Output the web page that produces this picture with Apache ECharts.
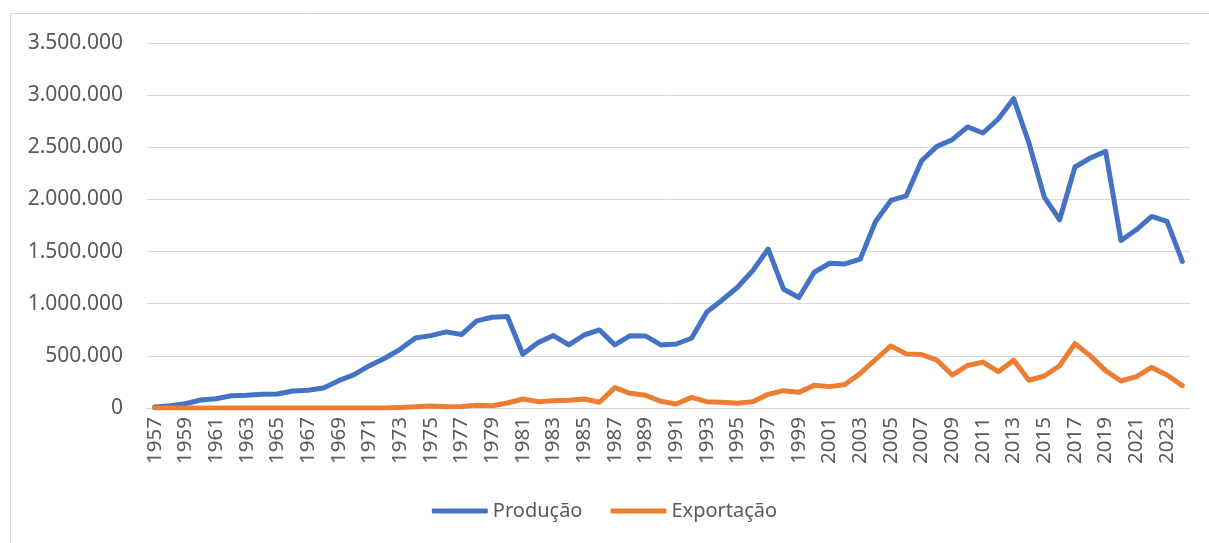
<!DOCTYPE html>
<html>
<head>
<meta charset="utf-8">
<script src="https://cdn.jsdelivr.net/npm/echarts@6/dist/echarts.min.js"></script>
<style>
html,body{margin:0;padding:0;background:#fff;}
#chart{width:1209px;height:543px;}
</style>
</head>
<body>
<div id="chart"></div>
<script>
const years = [];
for (let y = 1957; y <= 2024; y++) years.push(String(y));

const producao = [
  10000, 22000, 41000, 77000, 89000, 118000, 122000, 131000, 134000, 163000,
  170000, 192000, 262000, 320000, 406000, 477000, 563000, 672000, 694000, 730000,
  704000, 835000, 870000, 877000, 515000, 627000, 695000, 605000, 700000, 748000,
  605000, 694000, 691000, 605000, 614000, 669000, 921000, 1036000, 1158000, 1318000,
  1524000, 1139000, 1059000, 1302000, 1388000, 1382000, 1428000, 1788000, 1990000, 2035000,
  2371000, 2509000, 2573000, 2695000, 2637000, 2771000, 2966000, 2541000, 2023000, 1805000,
  2311000, 2397000, 2461000, 1606000, 1709000, 1837000, 1789000, 1405000
];

const exportacao = [
  0, 0, 0, 0, 0, 0, 0, 0, 0, 0,
  0, 0, 0, 0, 0, 0, 5000, 12000, 19000, 12000,
  15000, 26000, 22000, 48000, 86000, 61000, 70000, 74000, 86000, 55000,
  195000, 141000, 122000, 64000, 38000, 102000, 61000, 55000, 45000, 61000,
  131000, 166000, 150000, 218000, 205000, 225000, 332000, 465000, 595000, 519000,
  513000, 459000, 316000, 408000, 440000, 348000, 459000, 266000, 307000, 405000,
  617000, 500000, 358000, 259000, 300000, 389000, 316000, 215000
];

const seriesNames = ['Produção', 'Exportação'];
const yTicks = { min: 0, max: 3500000, interval: 500000 };

function fmt(v) {
  return String(v).replace(/\B(?=(\d{3})+(?!\d))/g, '.');
}

const chart = echarts.init(document.getElementById('chart'), null, { renderer: 'canvas' });
const font = '"Noto Sans", "Open Sans", sans-serif';
chart.setOption({
  animation: false,
  backgroundColor: '#ffffff',
  graphic: [{
    type: 'rect',
    shape: { x: 10.5, y: 13.5, width: 1230, height: 560 },
    style: { fill: 'none', stroke: '#d9d9d9', lineWidth: 1 },
    silent: true
  }],
  grid: { left: 147, right: 19, top: 43, bottom: 135, containLabel: false },
  legend: {
    data: seriesNames,
    bottom: 17,
    left: 'center',
    icon: 'roundRect',
    itemWidth: 56,
    itemHeight: 5,
    itemGap: 28,
    textStyle: { fontFamily: font, fontSize: 20, color: '#595959' }
  },
  xAxis: {
    type: 'category',
    data: years,
    boundaryGap: true,
    axisLine: { show: true, lineStyle: { color: '#d9d9d9', width: 1 } },
    axisTick: { show: false },
    axisLabel: {
      interval: 1,
      rotate: 90,
      margin: 9,
      fontFamily: font,
      fontSize: 20.5,
      color: '#595959'
    }
  },
  yAxis: {
    type: 'value',
    min: yTicks.min,
    max: yTicks.max,
    interval: yTicks.interval,
    axisLine: { show: false },
    axisTick: { show: false },
    splitLine: { lineStyle: { color: '#d9d9d9', width: 1 } },
    axisLabel: {
      formatter: fmt,
      margin: 24,
      fontFamily: font,
      fontSize: 21,
      color: '#595959'
    }
  },
  series: [
    {
      name: seriesNames[0],
      type: 'line',
      data: producao,
      symbol: 'none',
      color: '#4472C4',
      lineStyle: { width: 5, color: '#4472C4', cap: 'round', join: 'round' }
    },
    {
      name: seriesNames[1],
      type: 'line',
      data: exportacao,
      symbol: 'none',
      color: '#ED7D31',
      lineStyle: { width: 5, color: '#ED7D31', cap: 'round', join: 'round' }
    }
  ]
});
</script>
</body>
</html>
